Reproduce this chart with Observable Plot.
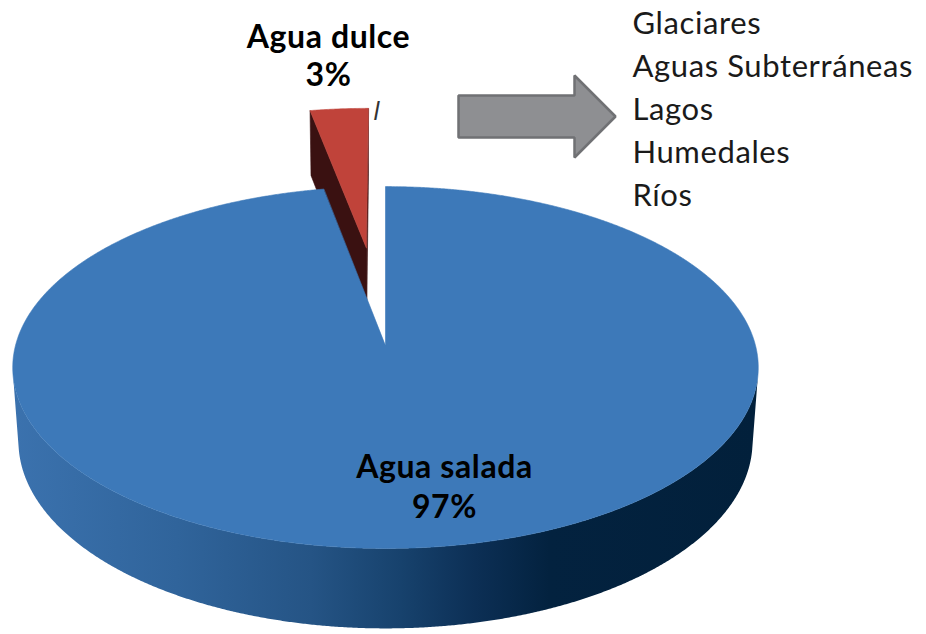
<!DOCTYPE html>
<html>
<head>
<meta charset="utf-8">
<script src="https://cdn.jsdelivr.net/npm/d3@7"></script>
<script src="https://cdn.jsdelivr.net/npm/@observablehq/plot@0.6"></script>
<style>
  html, body { margin: 0; padding: 0; background: #ffffff; }
  #chart svg { display: block; }
</style>
</head>
<body>
<div id="chart"></div>
<script>
// ---------------- data ----------------
const categories = ["Agua salada", "Agua dulce"];
const shares = [97, 3];
const exploded = [0, 1];
const freshwaterSources = ["Glaciares", "Aguas Subterráneas", "Lagos", "Humedales", "Ríos"];

// ---------------- layout & styles ----------------
const W = 926, H = 634;
const view = {cx: 385, cy: 345, k: 2664, D: 7.2, phi: 28.8 * Math.PI / 180, depth: 0.23, explode: 0.59};
const topColor = {"Agua salada": "#3d79b9", "Agua dulce": "#c0433a"};
const sideColor = {"Agua salada": "url(#sideGradSalada)", "Agua dulce": "#3a1111"};
const labelLayout = {
  "Agua salada": {x: 444, y1: 477, y2: 517},
  "Agua dulce": {x: 328, y1: 47, y2: 85}
};
const listLayout = {x: 632, y0: 33, step: 43};
const arrowLayout = {x0: 458, xNeck: 574, xTip: 615, yc: 116, shaftHalf: 21, headHalf: 41};
const FONT = "Lato, 'Open Sans', sans-serif";

// ---------------- projection ----------------
const cphi = Math.cos(view.phi), sphi = Math.sin(view.phi);
const cam = [0, view.D * sphi, -view.D * cphi];
function project(X, Y, Z) {
  const w = view.D + Z * cphi - Y * sphi;
  const up = Y * cphi + Z * sphi;
  return {x: view.cx + view.k * X / w, y: view.cy - view.k * up / w};
}

const sliceData = categories.map((c, i) => ({category: c, share: shares[i], explode: exploded[i]}));
const arcs = d3.pie().value(d => d.share).sort(null)(sliceData);

const faces = [];
const step = 0.25 * Math.PI / 180;
const hY = -view.depth;

arcs.forEach(a => {
  const cat = a.data.category;
  const s = a.startAngle, e = a.endAngle, m = (s + e) / 2;
  const off = a.data.explode * view.explode;
  const ox = off * Math.sin(m), oz = off * Math.cos(m);
  const rim = (t, Y) => project(ox + Math.sin(t), Y, oz + Math.cos(t));
  const n = Math.max(2, Math.ceil((e - s) / step));
  const angles = d3.range(n + 1).map(i => s + (e - s) * i / n);
  const sideFaces = [];

  // radial faces (back-face culled)
  [[s, -1], [e, 1]].forEach(([t, sign]) => {
    const nx = sign * Math.cos(t), nz = -sign * Math.sin(t);
    const dot = (cam[0] - ox) * nx + (cam[2] - oz) * nz;
    if (dot > 0) {
      sideFaces.push([project(ox, 0, oz), rim(t, 0), rim(t, hY), project(ox, hY, oz)]);
    }
  });
  // outer cylinder: visible runs
  let run = [];
  const flush = () => {
    if (run.length > 1) {
      const topArc = run.map(t => rim(t, 0));
      const botArc = run.slice().reverse().map(t => rim(t, hY));
      sideFaces.push(topArc.concat(botArc));
    }
    run = [];
  };
  angles.forEach(t => {
    const px = ox + Math.sin(t), pz = oz + Math.cos(t);
    const dot = (cam[0] - px) * Math.sin(t) + (cam[2] - pz) * Math.cos(t);
    if (dot > 0) run.push(t); else flush();
  });
  flush();

  const topFace = [project(ox, 0, oz)].concat(angles.map(t => rim(t, 0)));
  faces.push({cat, depth: oz, side: sideFaces, top: topFace});
});

faces.sort((a, b) => b.depth - a.depth);

const marks = [];
faces.forEach(f => {
  f.side.forEach(pts => {
    const fill = sideColor[f.cat];
    marks.push(Plot.line(pts, {x: "x", y: "y", fill, stroke: fill.startsWith("url") ? "none" : fill, strokeWidth: 0.6, curve: "linear-closed"}));
  });
  marks.push(Plot.line(f.top, {x: "x", y: "y", fill: topColor[f.cat], stroke: topColor[f.cat], strokeWidth: 0.6, curve: "linear-closed"}));
});

// arrow annotation
const A = arrowLayout;
const arrowPts = [
  {x: A.x0, y: A.yc - A.shaftHalf}, {x: A.xNeck, y: A.yc - A.shaftHalf}, {x: A.xNeck, y: A.yc - A.headHalf},
  {x: A.xTip, y: A.yc}, {x: A.xNeck, y: A.yc + A.headHalf}, {x: A.xNeck, y: A.yc + A.shaftHalf},
  {x: A.x0, y: A.yc + A.shaftHalf}
];
marks.push(Plot.line(arrowPts, {x: "x", y: "y", fill: "#8e8f92", stroke: "#707174", strokeWidth: 2.5, strokeLinejoin: "miter", curve: "linear-closed"}));

// labels
const labelRows = [];
categories.forEach((c, i) => {
  const L = labelLayout[c];
  labelRows.push({x: L.x, y: L.y1, text: c});
  labelRows.push({x: L.x, y: L.y2, text: shares[i] + "%"});
});
marks.push(Plot.text(labelRows, {x: "x", y: "y", text: "text", textAnchor: "middle", lineAnchor: "bottom",
  fontFamily: FONT, fontWeight: "bold", fontSize: 32, fill: "#000", className: "lbl"}));

// leader tick
marks.push(Plot.text([{x: 376, y: 119}], {x: "x", y: "y", text: () => "l", textAnchor: "middle", lineAnchor: "bottom",
  fontFamily: "'DejaVu Sans'", fontStyle: "italic", fontSize: 24, fill: "#333"}));

// list
marks.push(Plot.text(freshwaterSources.map((t, i) => ({x: listLayout.x, y: listLayout.y0 + i * listLayout.step, text: t})),
  {x: "x", y: "y", text: "text", textAnchor: "start", lineAnchor: "bottom", fontFamily: FONT, fontSize: 31, fill: "#1a1a1a", className: "lbl"}));

const plot = Plot.plot({
  width: W, height: H, margin: 0,
  style: {background: "#fff", overflow: "visible"},
  x: {domain: [0, W], range: [0, W], axis: null},
  y: {domain: [0, H], range: [0, H], axis: null},
  marks
});

// letter spacing for the Calibri-like labels, gradient for the salt-water side
const svg = d3.select(plot);
svg.selectAll(".lbl").style("letter-spacing", "0.6px");
const grad = svg.insert("defs", ":first-child").append("linearGradient")
  .attr("id", "sideGradSalada").attr("x1", 0).attr("x2", 1).attr("y1", 0).attr("y2", 0);
[[0, "#3b72ae"], [0.22, "#30649b"], [0.4, "#255485"], [0.52, "#17426d"], [0.62, "#0c2f55"], [0.72, "#03223f"], [1, "#02203b"]]
  .forEach(([o, c]) => grad.append("stop").attr("offset", o).attr("stop-color", c));

document.getElementById("chart").appendChild(plot);
</script>
</body>
</html>
